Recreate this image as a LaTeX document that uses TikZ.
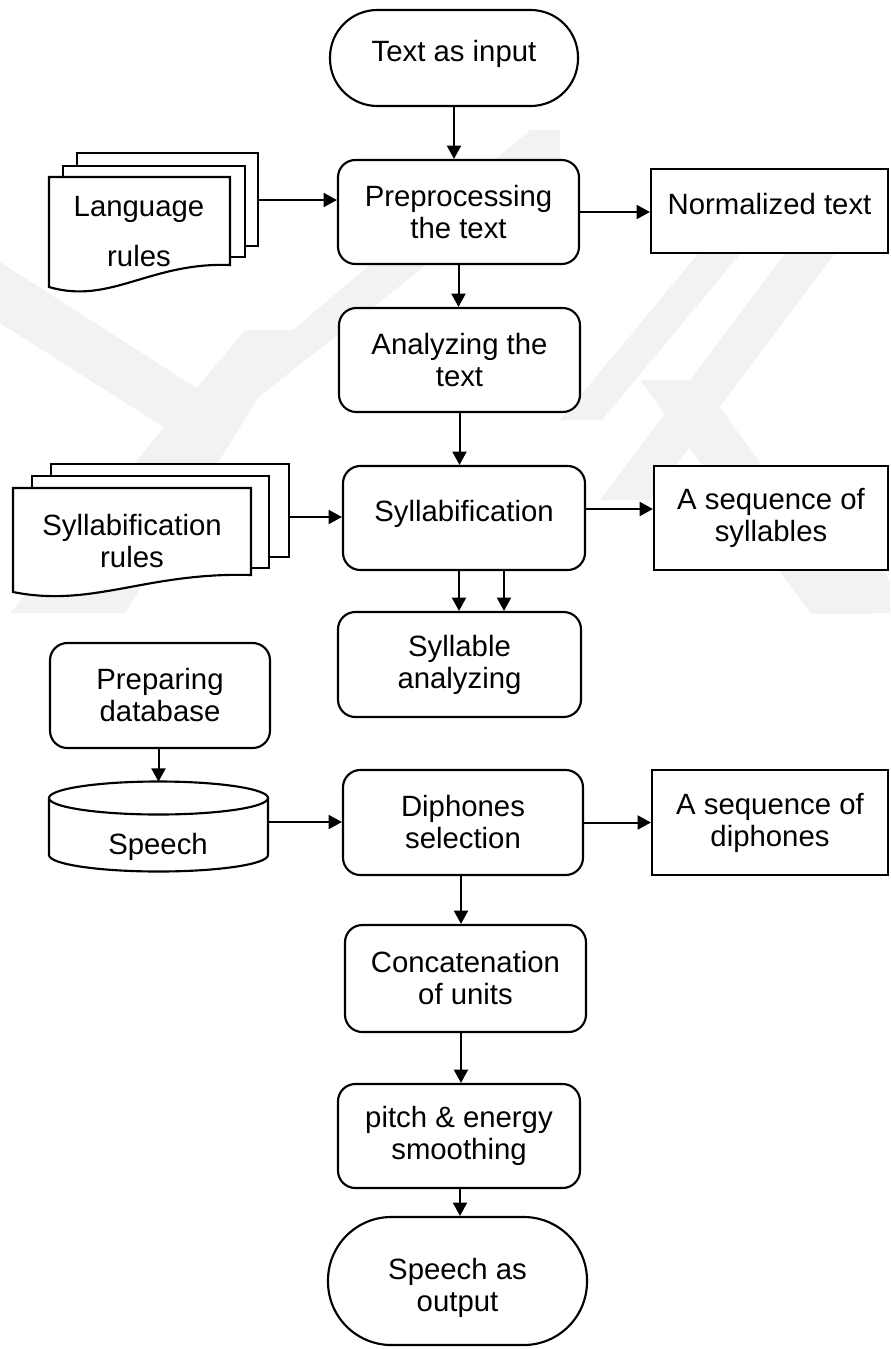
\documentclass[tikz,border=0pt]{standalone}
\usepackage{fontspec}
\setmainfont{Liberation Sans}
\usetikzlibrary{arrows.meta}
\begin{document}
\begin{tikzpicture}[x=0.75pt,y=-0.75pt,
  font=\fontsize{22}{24}\selectfont,
  box/.style={draw=black, line width=1.6pt, fill=white, rounded corners=13pt, align=center, inner sep=0pt},
  plainbox/.style={draw=black, line width=1.6pt, fill=white, align=center, inner sep=0pt},
  label text/.style={align=center, inner sep=0pt},
  page/.style={draw=black, line width=1.6pt, fill=white},
  arr/.style={line width=1.5pt, -{Triangle[length=10pt,width=10.5pt]}},
  wm/.style={fill=black!5, draw=none}]
\useasboundingbox (0,0) rectangle (890,1349);

% faint background emblem
\begin{scope}
  \clip (0,130) rectangle (890,613);
  \fill[wm] (0,262) -- (0,323) -- (195,447) -- (560,160) -- (560,105) -- (212,398) -- cycle;
  \fill[wm] (10,613) -- (125,613) -- (300,330) -- (245,330) -- cycle;
  \fill[wm] (560,420) -- (602,420) -- (760,230) -- (718,230) -- cycle;
  \fill[wm] (600,500) -- (650,500) -- (860,220) -- (810,220) -- cycle;
  \fill[wm] (640,380) -- (700,380) -- (890,640) -- (830,640) -- cycle;
  \fill[wm] (760,470) -- (820,470) -- (910,613) -- (850,613) -- cycle;
\end{scope}

% main flow
\node[box, rounded corners=35.5pt, minimum width=186pt, minimum height=72pt, text depth=10.5pt] (start) at (454,58) {Text as input};
\node[box, minimum width=180.75pt, minimum height=78pt] (prep) at (458.5,212) {Preprocessing\\the text};
\node[plainbox, minimum width=177.75pt, minimum height=63pt, text depth=10.5pt] (norm) at (769.5,211) {Normalized text};
\node[box, minimum width=180.75pt, minimum height=78pt] (anal) at (459.5,360) {Analyzing the\\text};
\node[box, minimum width=181.5pt, minimum height=78pt, text depth=10.5pt] (syl) at (464,518) {Syllabification};
\node[plainbox, minimum width=175.5pt, minimum height=78pt] (seqsyl) at (771,518) {A sequence of\\syllables};
\node[box, minimum width=182.25pt, minimum height=78.75pt] (sylan) at (459.5,664.5) {Syllable\\analyzing};
\node[box, minimum width=165pt, minimum height=78.75pt] (prepdb) at (160,695.5) {Preparing\\database};
\node[box, minimum width=180pt, minimum height=78.75pt] (diph) at (463,822.5) {Diphones\\selection};
\node[plainbox, minimum width=177pt, minimum height=78.75pt] (seqdi) at (770,822.5) {A sequence of\\diphones};
\node[box, minimum width=180.75pt, minimum height=80.25pt] (concat) at (465.5,978.5) {Concatenation\\of units};
\node[box, minimum width=181.5pt, minimum height=78pt] (pitch) at (459,1136) {pitch \& energy\\smoothing};
\node[box, rounded corners=47.5pt, minimum width=194.25pt, minimum height=96pt] (end) at (457.5,1281) {\rule{0pt}{27pt}Speech as\\output};

% stacked document: language rules
\draw[page] (77,153) rectangle (258,246);
\draw[page] (63,166) rectangle (245,257);
\draw[page] (49,177) -- (230,177) -- (230,265) .. controls (150,262) and (110,305) .. (49,287) -- cycle;
\node[label text] (langtxt) at (139,232) {Language\\[13.5pt]rules};
\coordinate (langout) at (258,200);

% stacked document: syllabification rules
\draw[page] (51,464) rectangle (289,557);
\draw[page] (32,476) rectangle (269,568);
\draw[page] (13,488) -- (251,488) -- (251,575) .. controls (146,572) and (93,608) .. (13,592) -- cycle;
\node[label text] (syltxt) at (132,541) {Syllabification\\rules};
\coordinate (sylout) at (289,517);

% speech database
\node[minimum width=164.25pt, minimum height=66.75pt, inner sep=0pt] (db) at (158.5,826.5) {};
\draw[page] (49,798) -- (49,855) arc[start angle=180, end angle=360, x radius=82.125pt, y radius=12.375pt] -- (268,798);
\draw[page] (158.5,798) ellipse [x radius=82.125pt, y radius=12.375pt];
\node[label text] (dbtxt) at (158,847) {Speech};
\coordinate (dbout) at (268,822);

% connectors
\draw[arr] (start.south) -- (start.south |- prep.north);
\draw[arr] (langout) -- (langout -| prep.west);
\draw[arr] (prep.east) -- (prep.east -| norm.west);
\draw[arr] (prep.south) -- (prep.south |- anal.north);
\draw[arr] (anal.south) -- (anal.south |- syl.north);
\draw[arr] (sylout) -- (sylout -| syl.west);
\draw[arr] ([yshift=6.75pt]syl.east) -- ([yshift=6.75pt]syl.east -| seqsyl.west);
\draw[arr] ([xshift=-3.75pt]syl.south) -- ([xshift=-3.75pt]syl.south |- sylan.north);
\draw[arr] ([xshift=30pt]syl.south) -- ([xshift=30pt]syl.south |- sylan.north);
\draw[arr] (prepdb.south -| db.north) -- (db.north);
\draw[arr] (dbout) -- (dbout -| diph.west);
\draw[arr] (diph.east) -- (diph.east -| seqdi.west);
\draw[arr] ([xshift=-1.5pt]diph.south) -- ([xshift=-1.5pt]diph.south |- concat.north);
\draw[arr] ([xshift=-3.4pt]concat.south) -- ([xshift=-3.4pt]concat.south |- pitch.north);
\draw[arr] ([xshift=0.75pt]pitch.south) -- ([xshift=0.75pt]pitch.south |- end.north);
\end{tikzpicture}
\end{document}
